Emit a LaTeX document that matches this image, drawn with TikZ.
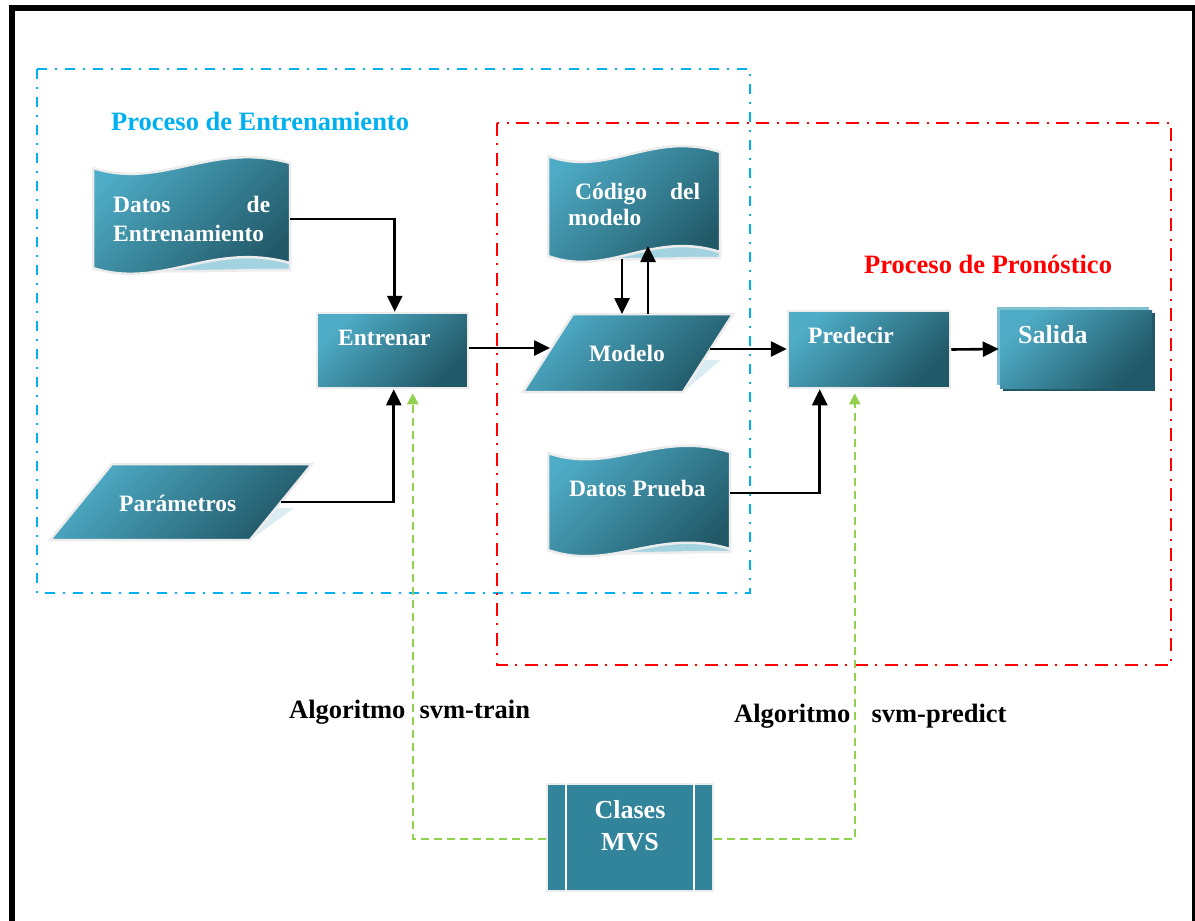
\documentclass[tikz,border=0pt]{standalone}
\usepackage{fontspec}
\setmainfont{Liberation Serif}
\usetikzlibrary{arrows.meta,calc,shadows}

\definecolor{tealL}{RGB}{78,172,198}
\definecolor{tealD}{RGB}{33,88,103}
\definecolor{tealF}{RGB}{50,132,155}
\definecolor{shadowB}{RGB}{163,211,225}
\definecolor{shadowP}{RGB}{218,237,243}
\definecolor{rimL}{RGB}{128,192,211}
\definecolor{outl}{RGB}{236,236,236}
\definecolor{procBlue}{RGB}{0,176,240}
\definecolor{procRed}{RGB}{255,0,0}
\definecolor{algGreen}{RGB}{146,208,80}

\tikzset{
  tealfill/.style={top color=tealL, bottom color=tealD, shading angle=45},
  rim/.style={draw=outl, line width=2.5pt},
  box/.style={rectangle, tealfill, rim, inner sep=0pt},
  flow/.style={draw=black, line width=2.6pt, -{Triangle[length=16pt,width=15pt]}},
  algo/.style={draw=algGreen, line width=2.4pt, dash pattern=on 8pt off 5pt,
               -{Triangle[length=11pt,width=11pt]}},
  ntext/.style={text=white, font=\fontsize{23.5}{29}\selectfont\bfseries, inner sep=0pt},
  btext/.style={text=white, font=\fontsize{26}{32}\selectfont\bfseries, inner sep=0pt},
  title/.style={font=\fontsize{26.5}{32}\selectfont\bfseries, inner sep=0pt},
  blueframe/.style={draw=procBlue, line width=2.2pt, dash pattern=on 10pt off 8pt on 2pt off 8pt},
  redframe/.style={draw=procRed, line width=2.2pt, dash pattern=on 13pt off 7pt on 2pt off 8pt},
}

% wavy document: #1 left, #2 right, #3 top-left y, #4 height, #5 rise at right end
\newcommand\wavedoc[5]{%
  \path[fill=shadowB, rim] (#1,{#3+#4-16}) -- (#2,{#3+#4-16}) -- (#2,{#3+#4+2})
    .. controls ({#1+0.6*(#2-#1)},{#3+#4+2}) and ({#1+0.35*(#2-#1)},{#3+#4+6}) .. (#1,{#3+#4}) -- cycle;
  \path[tealfill, rim] (#1,#3)
    .. controls ({#1+0.35*(#2-#1)},{#3+22}) and ({#1+0.6*(#2-#1)},{#3-#5-22}) .. (#2,{#3-#5})
    -- (#2,{#3-#5+#4})
    .. controls ({#1+0.6*(#2-#1)},{#3-#5-22+#4}) and ({#1+0.35*(#2-#1)},{#3+22+#4}) .. (#1,{#3+#4})
    -- cycle;
}

\begin{document}
\begin{tikzpicture}[x=1pt, y=-1pt]
\useasboundingbox (0,0) rectangle (1195,921);

% page frame
\fill[black] (9,5) rectangle (15,921);
\fill[black] (9,5) rectangle (1195,11);
\fill[black] (1192,5) rectangle (1195,921);

% process regions
\draw[blueframe] (37,69) rectangle (750,593);
\draw[redframe] (497,123) rectangle (1171,665);
\node[title, text=procBlue, anchor=base west] (t-train) at (111,130) {Proceso de Entrenamiento};
\node[title, text=procRed, anchor=base west] (t-pred) at (864,273) {Proceso de Pronóstico};

% training data
\wavedoc{93}{290}{168}{100}{5}
\node[ntext, anchor=north west, text width=157pt, align=left] (datosent) at (113,196)
  {Datos\hfill de\\Entrenamiento};
\coordinate (datosent-e) at (290,219);

% model code
\wavedoc{548}{720}{156}{100}{4}
\node[ntext, anchor=north west, text width=132pt, align=left] (codigo) at (568,183)
  {\hspace*{7pt}Código\hfill del\\[-3pt]modelo};
\coordinate (codigo-s1) at (622,259);
\coordinate (codigo-s2) at (648,246);

% test data
\wavedoc{548}{730}{453}{97}{1}
\node[ntext, anchor=base west] (prueba) at (569,496) {Datos Prueba};
\coordinate (prueba-e) at (730,493);

% parameters
\fill[shadowP] (276,508) -- (294,508) -- (250,540) -- cycle;
\path[tealfill, rim] (112,464) -- (312,464) -- (250,540) -- (50,540) -- cycle;
\node[ntext, anchor=base west] (param) at (119,511) {Parámetros};
\coordinate (param-e) at (281,502);

% model
\fill[shadowP] (703,360) -- (721,360) -- (683,392) -- cycle;
\path[tealfill, rim] (573,314) -- (733,314) -- (683,392) -- (523,392) -- cycle;
\node[ntext, anchor=base west] (modelo) at (589,361) {Modelo};
\coordinate (modelo-w) at (550,348);
\coordinate (modelo-e) at (710,349);
\coordinate (modelo-n1) at (622,314);
\coordinate (modelo-n2) at (648,314);

% train / predict / output boxes
\node[box, minimum width=151pt, minimum height=75pt] (entrenar) at (392.5,350.5) {};
\node[ntext, anchor=base west] (entrenar-t) at (338,345) {Entrenar};

\node[box, minimum width=162pt, minimum height=77pt] (predecir) at (869,349.5) {};
\node[ntext, anchor=base west] (predecir-t) at (808,343) {Predecir};

\node[box, minimum width=152pt, minimum height=78pt,
      general shadow={shadow xshift=3pt, shadow yshift=-3pt, fill=tealD},
      general shadow={shadow xshift=-3pt, shadow yshift=3pt, fill=rimL},
      draw=none] (salida) at (1076,349) {};
\node[btext, anchor=base west] (salida-t) at (1018,343) {Salida};

% SVM classes
\node[rectangle, fill=tealF, rim, inner sep=0pt, minimum width=166pt, minimum height=107pt]
  (clases) at (630,837.5) {};
\draw[white, line width=2pt] ($(clases.north west)+(20,0)$) -- ($(clases.south west)+(20,0)$);
\draw[white, line width=2pt] ($(clases.north east)+(-20,0)$) -- ($(clases.south east)+(-20,0)$);
\node[btext, align=center, anchor=north] (clases-t) at (630,800) {Clases\\MVS};

% algorithm labels
\node[title, anchor=base west] (alg-train) at (289,718) {Algoritmo\ \hspace{7.5pt}svm-train};
\node[title, anchor=base west] (alg-pred) at (734,722) {Algoritmo\ \hspace{14.5pt}svm-predict};

% connectors
\draw[flow] (datosent-e) -| ($(entrenar.north west)+(79,0)$);
\draw[flow] (param-e) -| ($(entrenar.south west)+(78,0)$);
\draw[flow] (entrenar.east |- modelo-w) -- (modelo-w);
\draw[flow] (codigo-s1) -- (modelo-n1);
\draw[flow] (modelo-n2) -- (codigo-s2);
\draw[flow] (modelo-e) -- (predecir.west |- modelo-e);
\draw[flow] (prueba-e) -| ($(predecir.south west)+(33,0)$);
\draw[flow] (predecir.east) -- (salida.west);

\draw[algo] (clases.west |- 0,839) -| ($(entrenar.south west)+(97,4)$);
\draw[algo] (clases.east |- 0,839) -| ($(predecir.south west)+(68,4)$);
\end{tikzpicture}
\end{document}
